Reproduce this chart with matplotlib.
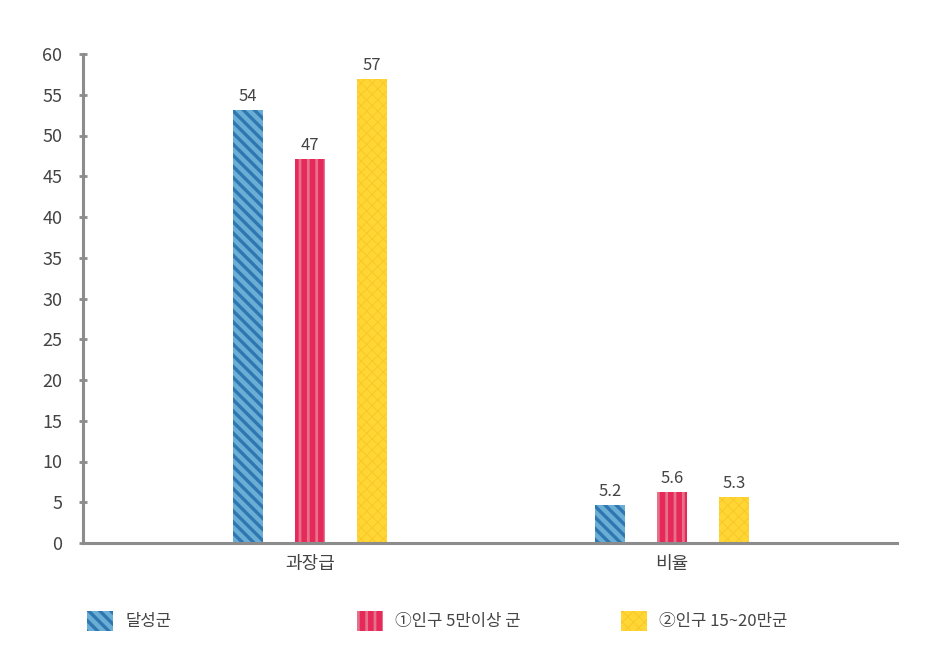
import matplotlib
matplotlib.use("Agg")
import matplotlib.pyplot as plt
import numpy as np

plt.rcParams['font.family'] = ['Noto Sans CJK KR', 'DejaVu Sans']

categories = ['과장급', '비율']
series_names = ['달성군', '①인구 5만이상 군', '②인구 15~20만군']
# bar heights as drawn in the picture
heights = [
    [53.1, 4.65],
    [47.1, 6.25],
    [56.9, 5.65],
]
# value labels shown above bars
value_labels = [
    ['54', '5.2'],
    ['47', '5.6'],
    ['57', '5.3'],
]
yticks = [0, 5, 10, 15, 20, 25, 30, 35, 40, 45, 50, 55, 60]

faces = ['#6aaed6', '#e4738a', '#ffd633']
hatch_cols = ['#2f77b1', '#e6285a', '#f8c82a']
hatches = ['\\\\\\', '||', 'xxx']
hatch_lw = [2.4, 4.0, 0.7]

text_col = '#444444'
axis_col = '#8c8c8c'

fig = plt.figure(figsize=(9.4, 6.59), dpi=100)
ax = fig.add_axes([83/940, 1-543/659, (897-83)/940, (543-54)/659])

x = np.arange(len(categories))
width = 0.083
offsets = [-0.171, 0.0, 0.171]
handles = []
for i in range(3):
    plt.rcParams['hatch.linewidth'] = hatch_lw[i]
    bars = ax.bar(x + offsets[i], heights[i], width, color=faces[i],
                  edgecolor=hatch_cols[i], linewidth=0, hatch=hatches[i],
                  label=series_names[i])
    for b in bars:
        if hasattr(b, 'set_hatch_linewidth'):
            b.set_hatch_linewidth(hatch_lw[i])
    handles.append(bars)
    for b, lab in zip(bars, value_labels[i]):
        ax.text(b.get_x() + b.get_width()/2, b.get_height() + 0.6, lab,
                ha='center', va='bottom', fontsize=12, color=text_col)

ax.set_xlim(-0.627, 1.622)
ax.set_ylim(0, 60)
ax.set_yticks(yticks)
ax.set_yticklabels([str(t) for t in yticks], fontsize=13, color=text_col)
ax.set_xticks(x)
ax.set_xticklabels(categories, fontsize=13, color=text_col)
ax.tick_params(axis='x', length=0, pad=9)
ax.tick_params(axis='y', direction='inout', length=6, width=2, color=axis_col, pad=12)
for s in ['top', 'right']:
    ax.spines[s].set_visible(False)
for s in ['left', 'bottom']:
    ax.spines[s].set_color(axis_col)
    ax.spines[s].set_linewidth(2.2)

xs = [87, 357, 621]
for i in range(3):
    leg = fig.legend(handles=[handles[i]], labels=[series_names[i]], loc='center left',
               bbox_to_anchor=(xs[i]/940, 1-621/659), frameon=False,
               fontsize=12, handlelength=1.55, handleheight=1.55,
               handletextpad=0.75, borderpad=0, borderaxespad=0,
               labelcolor=text_col)
    for p in leg.get_patches():
        if hasattr(p, 'set_hatch_linewidth'):
            p.set_hatch_linewidth(hatch_lw[i])

fig.savefig('out.png', dpi=100, facecolor='white')
